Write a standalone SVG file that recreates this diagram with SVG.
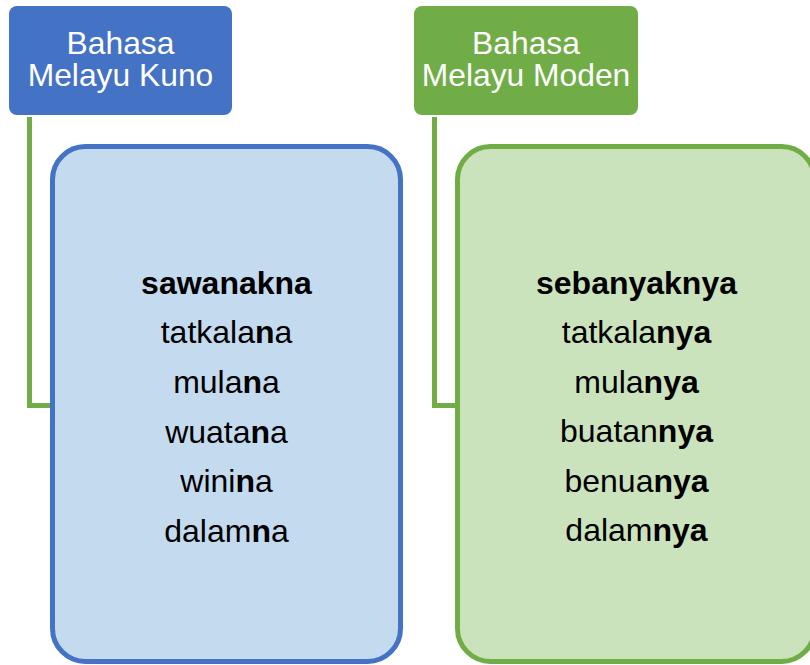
<svg xmlns="http://www.w3.org/2000/svg" width="810" height="665" viewBox="0 0 810 665">
  <style>
    .hdr-text { font-family: "Liberation Sans", Arial, sans-serif; font-size: 31.8px; fill: #ffffff; text-anchor: middle; }
    .word { font-family: "Liberation Sans", Arial, sans-serif; font-size: 32px; fill: #000000; text-anchor: middle; }
    .b { font-weight: bold; }
    .link { fill: none; stroke: #70AD47; stroke-width: 5; }
  </style>
  <rect width="810" height="665" fill="#ffffff"/>

  <!-- connectors from each heading down to its word list -->
  <g id="connectors">
    <path class="link" d="M29.5,117 V405.5 H52"/>
    <path class="link" d="M434.5,117 V405.5 H457"/>
  </g>

  <!-- Old Malay heading -->
  <g id="kuno-header">
    <rect x="9" y="6" width="223" height="109" rx="8" fill="#4472C4"/>
    <text class="hdr-text" x="120.5" y="54">Bahasa</text>
    <text class="hdr-text" x="120.5" y="85.5">Melayu Kuno</text>
  </g>

  <!-- Modern Malay heading -->
  <g id="moden-header">
    <rect x="414" y="6" width="224" height="109" rx="8" fill="#70AD47"/>
    <text class="hdr-text" x="526" y="54">Bahasa</text>
    <text class="hdr-text" x="526" y="85.5">Melayu Moden</text>
  </g>

  <!-- Old Malay word list -->
  <g id="kuno-words">
    <rect x="52.5" y="146.5" width="348" height="515" rx="33" fill="#C4DAEE" stroke="#4472C4" stroke-width="5"/>
    <text class="word b" x="226.5" y="293.5">sawanakna</text>
    <text class="word" x="226.5" y="342.5">tatkala<tspan class="b">n</tspan>a</text>
    <text class="word" x="226.5" y="392.5">mula<tspan class="b">n</tspan>a</text>
    <text class="word" x="226.5" y="442.5">wuata<tspan class="b">n</tspan>a</text>
    <text class="word" x="226.5" y="492">wini<tspan class="b">n</tspan>a</text>
    <text class="word" x="226.5" y="541.5">dalam<tspan class="b">n</tspan>a</text>
  </g>

  <!-- Modern Malay word list -->
  <g id="moden-words">
    <rect x="457.5" y="146.5" width="357" height="515" rx="33" fill="#CBE3BD" stroke="#70AD47" stroke-width="5"/>
    <text class="word b" x="636.5" y="293.5">sebanyaknya</text>
    <text class="word" x="636.5" y="342.5">tatkala<tspan class="b">nya</tspan></text>
    <text class="word" x="636.5" y="392.5">mula<tspan class="b">nya</tspan></text>
    <text class="word" x="636.5" y="442">buatan<tspan class="b">nya</tspan></text>
    <text class="word" x="636.5" y="491.5">benua<tspan class="b">nya</tspan></text>
    <text class="word" x="636.5" y="541">dalam<tspan class="b">nya</tspan></text>
  </g>
</svg>
